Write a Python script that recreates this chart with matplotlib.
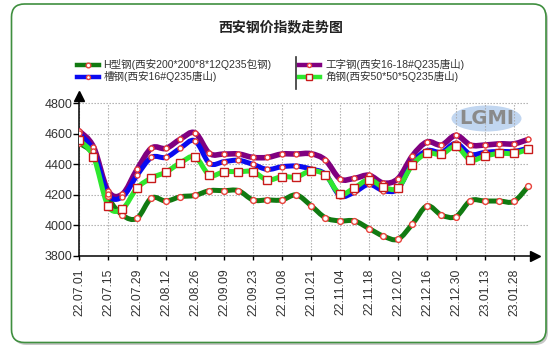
import numpy as np
import matplotlib
matplotlib.use("Agg")
import matplotlib.pyplot as plt
from matplotlib.path import Path
from matplotlib.patches import PathPatch, FancyBboxPatch, Ellipse
from matplotlib.lines import Line2D
from matplotlib.transforms import IdentityTransform

plt.rcParams['font.family'] = ['Liberation Sans', 'Noto Sans CJK SC', 'DejaVu Sans']

# ---- data -------------------------------------------------------------
title = "西安钢价指数走势图"
tick_labels = ["22.07.01", "22.07.15", "22.07.29", "22.08.12", "22.08.26",
               "22.09.09", "22.09.23", "22.10.08", "22.10.21", "22.11.04",
               "22.11.18", "22.12.02", "22.12.16", "22.12.30", "23.01.13",
               "23.01.28"]

name_h = "H型钢(西安200*200*8*12Q235包钢)"
name_i = "工字钢(西安16-18#Q235唐山)"
name_c = "槽钢(西安16#Q235唐山)"
name_a = "角钢(西安50*50*5Q235唐山)"

h_beam = [4540, 4460, 4190, 4068, 4047, 4180, 4160, 4188, 4197, 4228, 4228,
          4228, 4167, 4167, 4167, 4200, 4130, 4050, 4030, 4030, 3980, 3930,
          3910, 4010, 4128, 4068, 4058, 4162, 4160, 4160, 4158, 4258]
i_beam = [4620, 4515, 4228, 4206, 4367, 4507, 4505, 4566, 4607, 4472, 4468,
          4468, 4446, 4446, 4468, 4468, 4470, 4428, 4305, 4309, 4329, 4278,
          4307, 4457, 4547, 4527, 4590, 4527, 4527, 4535, 4535, 4564]
channel = [4603, 4490, 4206, 4188, 4328, 4446, 4446, 4507, 4555, 4407, 4418,
           4427, 4400, 4367, 4385, 4389, 4370, 4335, 4195, 4218, 4269, 4228,
           4240, 4410, 4490, 4480, 4538, 4466, 4479, 4485, 4485, 4507]
angle = [4560, 4451, 4130, 4110, 4245, 4311, 4350, 4411, 4450, 4330, 4352,
         4352, 4352, 4298, 4320, 4318, 4357, 4330, 4206, 4247, 4300, 4250,
         4247, 4398, 4472, 4466, 4518, 4429, 4455, 4472, 4472, 4499]

y_ticks = [3800, 4000, 4200, 4400, 4600, 4800]

# ---- styles -----------------------------------------------------------
series = [
    (name_h, h_beam, "#117a11", 3.6, "o", 4.2, "#e8413a"),
    (name_i, i_beam, "#800080", 4.0, "o", 3.6, "#e8413a"),
    (name_c, channel, "#0a0af0", 3.6, "o", 3.6, "#e8413a"),
    (name_a, angle, "#2ee82e", 3.6, "s", 5.2, "#c81a1a"),
]

W, H = 554, 347
fig = plt.figure(figsize=(W / 100, H / 100), dpi=100)
fig.patch.set_facecolor("white")

# rounded frame with soft shadow
shadow = FancyBboxPatch((13.5, H - 345), 546 - 11.5, 342.5 - 4,
                        boxstyle="round,pad=0,rounding_size=13",
                        transform=IdentityTransform(), facecolor="#c8c8c8",
                        edgecolor="none", zorder=0)
frame = FancyBboxPatch((11.5, H - 342.5), 546 - 11.5, 342.5 - 4,
                       boxstyle="round,pad=0,rounding_size=13",
                       transform=IdentityTransform(), facecolor="white",
                       edgecolor="#3f8f3f", linewidth=1.2, zorder=1)
fig.patches.extend([shadow, frame])

ax = fig.add_axes([79 / W, (H - 256) / H, (535 - 79) / W, (256 - 95.7) / H])
ax.set_facecolor("none")
ax.set_zorder(3)

n = len(h_beam)
x = np.arange(n)
ax.set_xlim(0, 31.45)
ax.set_ylim(3800, 4850)


def spline_path(xs, ys):
    """Smooth path through the points (Catmull-Rom as cubic Bezier)."""
    pts = np.column_stack([xs, ys]).astype(float)
    verts = [pts[0]]
    codes = [Path.MOVETO]
    for i in range(len(pts) - 1):
        p0 = pts[i - 1] if i > 0 else pts[i]
        p1 = pts[i]
        p2 = pts[i + 1]
        p3 = pts[i + 2] if i + 2 < len(pts) else pts[i + 1]
        c1 = p1 + (p2 - p0) / 6.0
        c2 = p2 - (p3 - p1) / 6.0
        verts += [c1, c2, p2]
        codes += [Path.CURVE4] * 3
    return Path(verts, codes)


# grid
for yv in y_ticks:
    ax.plot([0, n - 1], [yv, yv], color="#a8a8a8", lw=0.8,
            ls=(0, (1.2, 1.5)), zorder=1)
ax.vlines(x[::2], 3800, 4800, color="#a8a8a8", lw=0.8,
          linestyles=[(0, (1.2, 1.5))], zorder=1)

for name, vals, col, lw, mk, ms, mec in series:
    path = spline_path(x, vals)
    ax.add_patch(PathPatch(path, facecolor="none", edgecolor=col, lw=lw,
                           capstyle="round", joinstyle="round", zorder=4))
    ax.plot(x, vals, ls="none", marker=mk, ms=ms, mfc="white", mec=mec,
            mew=1.0, zorder=5)

# watermark logo
logo = Ellipse((486.5, H - 118.5), 70, 26, transform=IdentityTransform(),
               facecolor="#b6cfee", edgecolor="none", alpha=0.85, zorder=2)
fig.patches.append(logo)
fig.text(486.5 / W, 1 - 118.5 / H, "LGMI", ha="center", va="center",
         fontsize=14, fontweight="bold", color="#8a8a8a", zorder=3,
         family=["DejaVu Sans"])

# axes lines and arrows
for s in ["top", "right"]:
    ax.spines[s].set_visible(False)
ax.spines["left"].set_color("black")
ax.spines["bottom"].set_color("black")
ax.spines["left"].set_linewidth(1.1)
ax.spines["bottom"].set_linewidth(1.1)
ax.plot([0], [1.0], marker="^", ms=7, color="black", transform=ax.transAxes,
        clip_on=False, zorder=6)
ax.plot([1.0], [0], marker=">", ms=7, color="black", transform=ax.transAxes,
        clip_on=False, zorder=6)

ax.set_yticks(y_ticks)
ax.set_yticklabels([str(v) for v in y_ticks])
ax.set_xticks(x[::2])
ax.set_xticklabels(tick_labels, rotation=90)
ax.tick_params(axis="y", length=4, width=1, pad=0.5, labelsize=9,
               colors="black", labelcolor="#333333")
ax.tick_params(axis="x", length=3, width=1, pad=6, labelsize=8.8,
               colors="black", labelcolor="#333333")

# title
fig.text(281 / W, 1 - 27.5 / H, title, ha="center", va="center",
         fontsize=10, fontweight="bold", color="#222222",
         family=["Noto Sans CJK SC"])

# legend
leg_rows = [64.5, 76.5]
leg_cols = [(77, 99, 103.5), (299, 320, 325)]
leg_items = [(0, 0, series[0]), (1, 0, series[1]),
             (0, 1, series[2]), (1, 1, series[3])]
for ci, ri, (name, vals, col, lw, mk, ms, mec) in leg_items:
    x0, x1, xt = leg_cols[ci]
    yy = 1 - leg_rows[ri] / H
    fig.add_artist(Line2D([x0 / W, x1 / W], [yy, yy], color=col, lw=3.2,
                          transform=fig.transFigure))
    fig.add_artist(Line2D([(x0 + x1) / 2 / W], [yy], ls="none", marker=mk,
                          ms=ms * 0.8, mfc="white", mec=mec, mew=1.0,
                          transform=fig.transFigure))
    fig.text(xt / W, yy, name, ha="left", va="center", fontsize=7.6,
             color="#333333")
fig.add_artist(Line2D([296.5 / W, 296.5 / W], [1 - 57 / H, 1 - 88.5 / H],
                      color="#333333", lw=1.2, transform=fig.transFigure))

fig.savefig("out.png", dpi=100)
